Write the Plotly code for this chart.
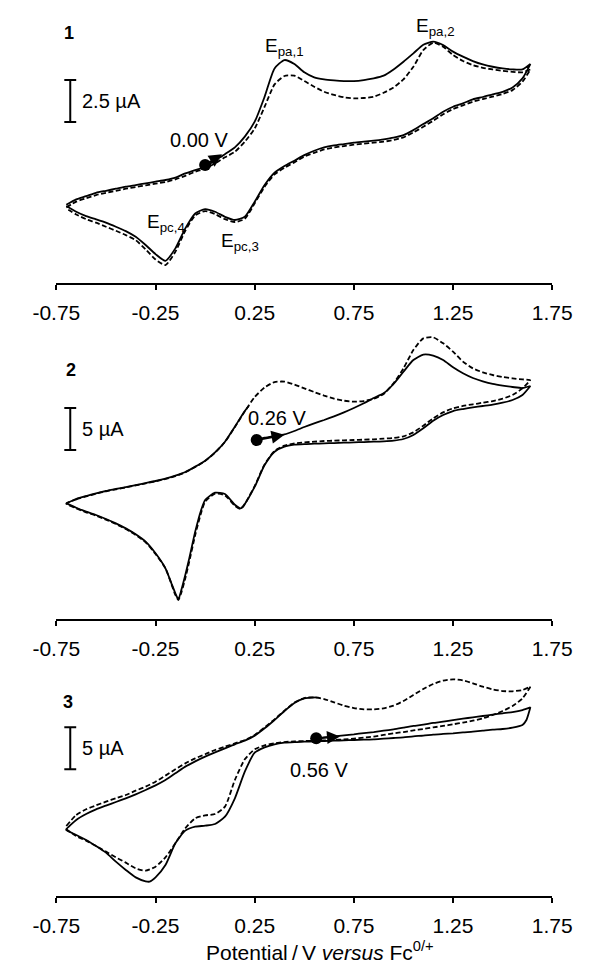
import plotly.graph_objects as go

# ---------------- data (potential in V vs Fc0/+, current in uA) ----------------
E_GRID = [-0.70, -0.65, -0.60, -0.55, -0.50, -0.45, -0.40, -0.35, -0.30, -0.25,
          -0.20, -0.15, -0.10, -0.05, 0.00, 0.05, 0.10, 0.15, 0.20, 0.25,
          0.30, 0.35, 0.40, 0.45, 0.50, 0.55, 0.60, 0.65, 0.70, 0.75,
          0.80, 0.85, 0.90, 0.95, 1.00, 1.05, 1.10, 1.15, 1.20, 1.25,
          1.30, 1.35, 1.40, 1.45, 1.50, 1.55, 1.60, 1.64]
E_GRID_REV = E_GRID[::-1]

# Panel 1
p1_solid_fwd = [-2.26, -1.94, -1.75, -1.55, -1.43, -1.31, -1.19, -1.09, -0.99, -0.89,
                -0.79, -0.65, -0.40, -0.20, 0.00, 0.38, 0.75, 1.15, 1.79, 2.68,
                4.17, 5.85, 6.35, 6.11, 5.62, 5.32, 5.20, 5.14, 5.10, 5.10,
                5.16, 5.26, 5.42, 5.79, 6.25, 6.75, 7.26, 7.44, 7.24, 6.85,
                6.55, 6.29, 6.09, 5.95, 5.85, 5.79, 5.79, 6.11]
p1_solid_rev = [6.11, 5.26, 4.72, 4.46, 4.31, 4.15, 4.01, 3.77, 3.57, 3.27,
                2.88, 2.54, 2.18, 1.88, 1.73, 1.63, 1.55, 1.49, 1.43, 1.35,
                1.27, 1.15, 0.95, 0.69, 0.36, 0.04, -0.36, -1.09, -2.08, -2.98,
                -3.17, -2.98, -2.68, -2.52, -2.78, -3.67, -4.86, -5.60, -5.20, -4.66,
                -4.17, -3.83, -3.57, -3.33, -3.13, -2.94, -2.68, -2.34]
p1_dash_fwd = [-2.42, -2.08, -1.88, -1.69, -1.55, -1.43, -1.31, -1.21, -1.11, -1.01,
               -0.91, -0.75, -0.54, -0.30, -0.10, 0.20, 0.56, 0.89, 1.49, 2.28,
               3.57, 4.90, 5.40, 5.42, 5.10, 4.76, 4.46, 4.27, 4.13, 4.07,
               4.09, 4.17, 4.40, 4.72, 5.20, 5.95, 6.94, 7.38, 7.14, 6.65,
               6.29, 6.05, 5.89, 5.79, 5.71, 5.65, 5.62, 5.79]
p1_dash_rev = [5.79, 5.06, 4.56, 4.33, 4.17, 4.03, 3.87, 3.65, 3.43, 3.12,
               2.74, 2.38, 2.04, 1.75, 1.59, 1.49, 1.43, 1.37, 1.31, 1.23,
               1.15, 1.03, 0.83, 0.60, 0.26, -0.06, -0.46, -1.19, -2.18, -3.10,
               -3.29, -3.12, -2.82, -2.64, -2.90, -3.81, -5.06, -5.85, -5.52, -4.92,
               -4.37, -4.07, -3.81, -3.57, -3.33, -3.12, -2.84, -2.48]

# Panel 2
p2_E_start = [0.26, 0.30, 0.35, 0.40, 0.45, 0.50, 0.55, 0.60, 0.65, 0.70, 0.75, 0.80,
              0.85, 0.90, 0.95, 1.00, 1.05, 1.10, 1.15, 1.20, 1.25, 1.30, 1.35, 1.40,
              1.45, 1.50, 1.55, 1.60, 1.64]
p2_solid_start = [0.05, 0.28, 0.48, 0.67, 1.07, 1.55, 1.98, 2.38, 2.82, 3.29, 3.81, 4.37,
                  5.00, 5.56, 6.67, 8.13, 9.52, 10.16, 10.04, 9.52, 8.65, 7.94, 7.38, 6.98,
                  6.67, 6.47, 6.31, 6.19, 6.43]
p2_E_rev = [1.64, 1.60, 1.55, 1.50, 1.45, 1.40, 1.35, 1.30, 1.25, 1.20, 1.15, 1.10,
            1.05, 1.00, 0.95, 0.90, 0.85, 0.80, 0.75, 0.70, 0.65, 0.60, 0.55, 0.50,
            0.45, 0.40, 0.35, 0.30, 0.25, 0.20, 0.18, 0.15, 0.10, 0.05, 0.00, -0.02,
            -0.05, -0.08, -0.10, -0.12, -0.135, -0.15, -0.17, -0.20, -0.25, -0.30,
            -0.35, -0.40, -0.45, -0.50, -0.55, -0.60, -0.65, -0.70]
p2_solid_rev = [6.43, 5.36, 4.76, 4.44, 4.21, 4.05, 3.89, 3.69, 3.45, 2.98, 2.30, 1.39,
                0.60, 0.12, -0.08, -0.16, -0.20, -0.24, -0.28, -0.32, -0.36, -0.40, -0.44, -0.48,
                -0.56, -0.79, -1.39, -2.98, -5.56, -7.62, -8.13, -7.70, -6.43, -6.27, -7.14, -8.33,
                -10.91, -14.09, -16.07, -17.86, -18.97, -18.25, -17.06, -15.28, -13.49, -12.10,
                -11.23, -10.52, -9.92, -9.40, -8.93, -8.53, -8.06, -7.54]
p2_E_end = [-0.70, -0.65, -0.60, -0.55, -0.50, -0.45, -0.40, -0.35, -0.30, -0.25,
            -0.20, -0.15, -0.10, -0.05, 0.00, 0.05, 0.10, 0.15, 0.20, 0.22]
p2_solid_end = [-7.54, -7.02, -6.67, -6.35, -6.07, -5.83, -5.60, -5.36, -5.12, -4.88,
                -4.60, -4.25, -3.81, -3.17, -2.46, -1.47, -0.20, 1.59, 3.45, 4.05]
p2_dash_fwd = [-7.58, -7.06, -6.71, -6.39, -6.11, -5.87, -5.64, -5.40, -5.16, -4.92,
               -4.64, -4.29, -3.85, -3.21, -2.50, -1.51, -0.24, 1.55, 3.41, 5.12,
               6.25, 6.90, 6.95, 6.60, 6.15, 5.71, 5.28, 4.92, 4.68, 4.56,
               4.64, 4.92, 5.48, 6.75, 8.53, 10.71, 12.10, 12.22, 11.51, 10.52,
               9.33, 8.53, 8.06, 7.74, 7.50, 7.34, 7.22, 7.14]
p2_dash_rev = [7.14, 6.15, 5.36, 4.92, 4.64, 4.44, 4.25, 4.05, 3.77, 3.29, 2.58, 1.71,
               0.91, 0.44, 0.24, 0.16, 0.08, 0.04, 0.00, -0.04, -0.08, -0.12, -0.20, -0.28,
               -0.40, -0.67, -1.31, -2.90, -5.48, -7.62, -8.21, -7.82, -6.59, -6.39, -7.34, -8.65,
               -11.31, -14.48, -16.47, -18.17, -19.05, -18.45, -17.14, -15.28, -13.57, -12.18,
               -11.31, -10.60, -10.00, -9.48, -9.01, -8.61, -8.13, -7.58]

# Panel 3
p3_E_start = [0.56, 0.60, 0.65, 0.70, 0.75, 0.80, 0.85, 0.90, 0.95, 1.00, 1.05, 1.10,
              1.15, 1.20, 1.25, 1.30, 1.35, 1.40, 1.45, 1.50, 1.55, 1.60, 1.64]
p3_solid_start = [0.00, 0.12, 0.24, 0.36, 0.48, 0.63, 0.75, 0.91, 1.07, 1.27, 1.47, 1.63,
                  1.83, 1.98, 2.18, 2.34, 2.50, 2.66, 2.82, 2.98, 3.13, 3.37, 3.69]
p3_E_rev = [1.64, 1.62, 1.60, 1.55, 1.50, 1.45, 1.40, 1.35, 1.30, 1.25, 1.20, 1.15,
            1.10, 1.05, 1.00, 0.95, 0.90, 0.85, 0.80, 0.75, 0.70, 0.65, 0.60, 0.55,
            0.50, 0.45, 0.40, 0.35, 0.30, 0.25, 0.20, 0.15, 0.10, 0.05, 0.00, -0.05,
            -0.10, -0.15, -0.20, -0.25, -0.28, -0.30, -0.35, -0.40, -0.45, -0.50,
            -0.55, -0.60, -0.65, -0.70]
p3_solid_rev = [3.69, 2.18, 1.59, 1.27, 1.11, 1.03, 0.91, 0.79, 0.71, 0.60, 0.52, 0.44,
                0.32, 0.24, 0.12, 0.04, -0.04, -0.12, -0.16, -0.20, -0.24, -0.28, -0.32, -0.36,
                -0.40, -0.44, -0.52, -0.71, -1.07, -1.71, -3.97, -7.14, -9.33, -10.20, -10.40, -10.52,
                -10.99, -12.50, -15.08, -16.55, -17.06, -17.02, -16.55, -15.67, -14.68, -13.61,
                -12.82, -12.10, -11.51, -10.91]
p3_E_end = [-0.70, -0.65, -0.60, -0.55, -0.50, -0.45, -0.40, -0.35, -0.30, -0.25,
            -0.20, -0.15, -0.10, -0.05, 0.00, 0.05, 0.10, 0.15, 0.20, 0.25,
            0.30, 0.35, 0.40, 0.45, 0.50, 0.56]
p3_solid_end = [-10.83, -9.72, -9.01, -8.45, -8.02, -7.58, -7.14, -6.67, -6.15, -5.60,
                -4.96, -4.17, -3.37, -2.74, -2.18, -1.67, -1.19, -0.71, -0.28, 0.32,
                1.19, 2.18, 3.25, 4.21, 4.76, 4.88]
p3_dash_fwd = [-10.44, -9.13, -8.45, -7.98, -7.54, -7.14, -6.75, -6.23, -5.75, -5.16,
               -4.44, -3.69, -2.98, -2.38, -1.90, -1.39, -0.99, -0.60, -0.20, 0.40,
               1.31, 2.26, 3.29, 4.25, 4.80, 4.88, 4.68, 4.29, 3.89, 3.61,
               3.45, 3.45, 3.57, 3.89, 4.44, 5.16, 5.87, 6.47, 6.87, 7.02,
               6.90, 6.55, 6.15, 5.83, 5.63, 5.60, 5.75, 6.15]
p3_dash_rev = [6.15, 4.75, 3.85, 3.25, 2.78, 2.38, 2.10, 1.87, 1.67, 1.47,
               1.31, 1.11, 0.95, 0.75, 0.60, 0.40, 0.20, 0.08, -0.04, -0.12,
               -0.20, -0.24, -0.28, -0.32, -0.36, -0.44, -0.60, -0.83, -1.31, -2.50,
               -4.96, -8.13, -9.01, -9.17, -9.52, -10.71, -12.50, -14.17, -15.28, -15.75,
               -15.48, -14.80, -14.17, -13.49, -12.82, -12.18, -11.63, -10.83]

start_potentials = [0.00, 0.26, 0.56]
start_labels = ["0.00 V", "0.26 V", "0.56 V"]
scale_uA = [2.5, 5, 5]
scale_labels = ["2.5 \u00b5A", "5 \u00b5A", "5 \u00b5A"]
tick_vals = [-0.75, -0.25, 0.25, 0.75, 1.25, 1.75]
tick_text = ["-0.75", "-0.25", "0.25", "0.75", "1.25", "1.75"]

# ---------------- layout helpers ----------------
W, H = 601, 967
OFF = 8  # the page body margin shifts the figure by 8 px; compensate
FONT = "Liberation Sans, Arial, Helvetica, sans-serif"
def pxf(p):
    return (p - OFF) / W
def pyf(p):
    return 1 - (p - OFF) / H

fig = go.Figure()

solid = dict(color="black", width=1.8, shape="spline", smoothing=0.6)
dashed = dict(color="black", width=1.8, dash="5px,2.5px", shape="spline", smoothing=0.6)

def add_curve(xs, ys, line, ax):
    fig.add_trace(go.Scatter(x=xs, y=ys, mode="lines", line=line, hoverinfo="skip",
                             xaxis="x" + ax, yaxis="y" + ax, showlegend=False))

# panel 1
add_curve(E_GRID + E_GRID_REV, p1_dash_fwd + p1_dash_rev, dashed, "")
add_curve(E_GRID + E_GRID_REV, p1_solid_fwd + p1_solid_rev, solid, "")
# panel 2
add_curve(E_GRID + p2_E_rev, p2_dash_fwd + p2_dash_rev, dashed, "2")
add_curve(p2_E_start + p2_E_rev + p2_E_end, p2_solid_start + p2_solid_rev + p2_solid_end, solid, "2")
# panel 3
add_curve(E_GRID + E_GRID_REV, p3_dash_fwd + p3_dash_rev, dashed, "3")
add_curve(p3_E_start + p3_E_rev + p3_E_end, p3_solid_start + p3_solid_rev + p3_solid_end, solid, "3")

# panel geometry (target pixel rows) and y ranges (uA)
panels = [
    dict(ax="", top=15, bottom=282.5, yr=[-6.89, 9.03]),
    dict(ax="2", top=322, bottom=618.5, yr=[-21.25, 14.05]),
    dict(ax="3", top=655, bottom=895.5, yr=[-18.71, 9.92]),
]

xaxis_common = dict(range=[-0.75, 1.75], domain=[pxf(34.3), pxf(569.3)],
                    showline=True, linecolor="black", linewidth=2,
                    ticks="outside", ticklen=5, tickwidth=2, tickcolor="black",
                    tickmode="array", tickvals=tick_vals, ticktext=tick_text,
                    tickfont=dict(family=FONT, size=21, color="black"),
                    showgrid=False, zeroline=False, ticklabelstandoff=5)

layout = dict(width=W, height=H, margin=dict(l=0, r=0, t=0, b=0),
              plot_bgcolor="white", paper_bgcolor="white", showlegend=False)

shapes = []
annotations = []
bar_x = -0.68
bar_lo = [2.66, -1.19, -3.69]
lab_pos = [(-0.684, 7.94), (-0.675, 8.33), (-0.693, 4.37)]
dot_y = [0.10, 0.00, 0.00]
arrow_head = [(0.085, 0.75), (0.40, 0.62), (0.68, 0.22)]
start_lab_pos = [(-0.029, 1.59), (0.36, 2.58), (0.575, -3.77)]

for i, p in enumerate(panels):
    ax = p["ax"]
    xa = dict(xaxis_common, anchor="y" + ax)
    ya = dict(domain=[pyf(p["bottom"]), pyf(p["top"])], range=p["yr"], visible=False,
              fixedrange=True)
    layout["xaxis" + ax] = xa
    layout["yaxis" + ax] = ya
    xr, yr = "x" + ax, "y" + ax
    lo = bar_lo[i]
    hi = lo + scale_uA[i]
    shapes.append(dict(type="line", xref=xr, yref=yr, x0=bar_x, x1=bar_x, y0=lo, y1=hi,
                       line=dict(color="black", width=2)))
    for yy in (lo, hi):
        shapes.append(dict(type="line", xref=xr, yref=yr, x0=bar_x - 0.03, x1=bar_x + 0.03,
                           y0=yy, y1=yy, line=dict(color="black", width=2)))
    annotations.append(dict(xref=xr, yref=yr, x=-0.63, y=(lo + hi) / 2, text=scale_labels[i],
                            showarrow=False, xanchor="left", yanchor="middle",
                            font=dict(family=FONT, size=20, color="black")))
    annotations.append(dict(xref=xr, yref=yr, x=lab_pos[i][0], y=lab_pos[i][1],
                            text="<b>%d</b>" % (i + 1), showarrow=False,
                            xanchor="center", yanchor="middle",
                            font=dict(family=FONT, size=18, color="black")))
    # start-point arrow (annotation arrow) and dot
    annotations.append(dict(xref=xr, yref=yr, axref=xr, ayref=yr,
                            x=arrow_head[i][0], y=arrow_head[i][1],
                            ax=start_potentials[i], ay=dot_y[i], text="", showarrow=True,
                            arrowhead=2, arrowsize=1.3, arrowwidth=2, arrowcolor="black",
                            standoff=0, startstandoff=0))
    fig.add_trace(go.Scatter(x=[start_potentials[i]], y=[dot_y[i]], mode="markers",
                             marker=dict(color="black", size=12), hoverinfo="skip",
                             xaxis=xr, yaxis=yr, showlegend=False))
    annotations.append(dict(xref=xr, yref=yr, x=start_lab_pos[i][0], y=start_lab_pos[i][1],
                            text=start_labels[i], showarrow=False, xanchor="center",
                            yanchor="middle", font=dict(family=FONT, size=20, color="black")))

# peak labels, panel 1
peak_labels = [("E<sub>pa,1</sub>", 0.40, 7.14), ("E<sub>pa,2</sub>", 1.164, 8.33),
               ("E<sub>pc,4</sub>", -0.198, -3.37), ("E<sub>pc,3</sub>", 0.177, -4.46)]
for txt, xx, yy in peak_labels:
    annotations.append(dict(xref="x", yref="y", x=xx, y=yy, text=txt, showarrow=False,
                            xanchor="center", yanchor="middle",
                            font=dict(family=FONT, size=19, color="black")))

annotations.append(dict(xref="paper", yref="paper", x=pxf(319), y=pyf(966),
                        text="Potential\u2009/\u2009V <i>versus</i> Fc<sup>0/+</sup>",
                        showarrow=False, xanchor="center", yanchor="bottom",
                        font=dict(family=FONT, size=21, color="black")))

layout["shapes"] = shapes
layout["annotations"] = annotations
fig.update_layout(**layout)
fig.write_html("out.html")
